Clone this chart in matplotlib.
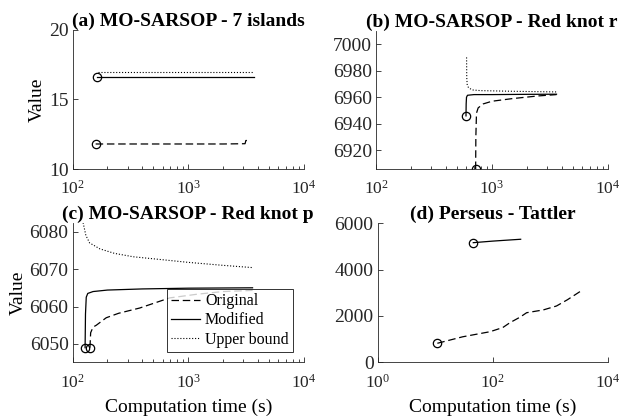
import numpy as np
import matplotlib.pyplot as plt
from matplotlib.ticker import NullLocator

plt.rcParams['font.family'] = ['Liberation Serif', 'DejaVu Serif']
plt.rcParams['mathtext.fontset'] = 'stix'

# (a) MO-SARSOP - 7 islands
a_orig_t = [158, 500, 1000, 2000, 3100, 3150, 3400]
a_orig_v = [11.8, 11.8, 11.8, 11.8, 11.82, 12.05, 12.05]
a_mod_t = [163, 500, 1000, 3700]
a_mod_v = [16.65, 16.65, 16.65, 16.65]
a_ub_t = [165, 500, 1000, 3700]
a_ub_v = [17.0, 17.0, 17.0, 17.0]

# (b) MO-SARSOP - Red knot r
b_orig_t = [723, 726, 735, 760, 840, 1000, 1500, 2500, 3600]
b_orig_v = [6906, 6930, 6948, 6952, 6955, 6957, 6959, 6961, 6962]
b_mod_t = [597, 599, 603, 615, 700, 1000, 2000, 3600]
b_mod_v = [6946, 6955, 6960, 6961.5, 6962, 6962, 6962.2, 6962.3]
b_ub_t = [604, 606, 612, 630, 680, 800, 1500, 3700]
b_ub_v = [6990, 6975, 6969, 6967, 6965.5, 6965, 6964.5, 6964]

# (c) MO-SARSOP - Red knot p
c_orig_t = [141, 143, 150, 160, 195, 250, 380, 690, 1200, 2000, 3600]
c_orig_v = [6049, 6053, 6054.5, 6055, 6057, 6058.2, 6059.6, 6062.3, 6063.3, 6064, 6064.3]
c_mod_t = [128, 129, 131, 135, 150, 200, 400, 1000, 3600]
c_mod_v = [6049, 6058, 6062.5, 6063.5, 6064, 6064.4, 6064.7, 6064.9, 6065]
c_ub_t = [123, 130, 140, 172, 230, 333, 600, 1000, 2000, 3600]
c_ub_v = [6082.4, 6079, 6077, 6075.4, 6074.2, 6073.3, 6072.5, 6071.8, 6071, 6070.4]

# (d) Perseus - Tattler
d_orig_t = [10.9, 30, 90, 150, 200, 300, 390, 760, 1290, 2000, 3300]
d_orig_v = [820, 1100, 1320, 1500, 1710, 1950, 2140, 2260, 2430, 2700, 3050]
d_mod_t = [46, 100, 200, 307]
d_mod_v = [5163, 5230, 5280, 5310]

grey = '#262626'
lw = 0.9


def styl(ax, xlim, ylim, yticks, title, xlabel=False, ylabel=False):
    ax.set_xscale('log')
    ax.set_xlim(xlim)
    ax.set_ylim(ylim)
    ax.set_yticks(yticks)
    for s in ['top', 'right']:
        ax.spines[s].set_visible(False)
    for s in ['left', 'bottom']:
        ax.spines[s].set_color(grey)
        ax.spines[s].set_linewidth(0.6)
    ax.tick_params(which='both', direction='in', colors=grey,
                   labelcolor='#262626', width=0.6, pad=3)
    ax.tick_params(axis='y', labelsize=14)
    ax.tick_params(axis='x', labelsize=12.5, pad=8)
    ax.tick_params(which='major', length=3.5)
    ax.tick_params(which='minor', length=2)
    ax.set_title(title, fontsize=14, fontweight='bold', pad=3)
    if xlabel:
        ax.set_xlabel('Computation time (s)', fontsize=14, labelpad=5)
    if ylabel:
        ax.set_ylabel('Value', fontsize=14, labelpad=2)


def draw(ax, t, v, ls):
    ax.plot(t, v, color='k', linestyle=ls, linewidth=lw)
    ax.plot(t[0], v[0], 'o', mfc='none', mec='k', ms=6, mew=0.9)


fig = plt.figure(figsize=(6.23, 4.2), dpi=100)
dash = (0, (6, 3))

ax = fig.add_axes([0.1167, 0.5976, 0.371, 0.331])
ax.plot(a_ub_t, a_ub_v, color='k', linestyle=':', linewidth=0.8)
draw(ax, a_mod_t, a_mod_v, '-')
draw(ax, a_orig_t, a_orig_v, dash)
styl(ax, (1e2, 1e4), (10, 20), [10, 15, 20], '(a) MO-SARSOP - 7 islands', ylabel=True)

ax = fig.add_axes([0.6035, 0.5976, 0.3724, 0.329])
ax.plot(b_ub_t, b_ub_v, color='k', linestyle=':', linewidth=0.8)
draw(ax, b_mod_t, b_mod_v, '-')
draw(ax, b_orig_t, b_orig_v, dash)
styl(ax, (1e2, 1e4), (6906, 7010), [6920, 6940, 6960, 6980, 7000],
     '(b) MO-SARSOP - Red knot r')

ax = fig.add_axes([0.1167, 0.1374, 0.371, 0.3324])
l1, = ax.plot(c_orig_t, c_orig_v, color='k', linestyle=dash, linewidth=lw)
l2, = ax.plot(c_mod_t, c_mod_v, color='k', linestyle='-', linewidth=lw)
l3, = ax.plot(c_ub_t, c_ub_v, color='k', linestyle=':', linewidth=0.8)
ax.plot(c_orig_t[0], c_orig_v[0], 'o', mfc='none', mec='k', ms=6, mew=0.9)
ax.plot(c_mod_t[0], c_mod_v[0], 'o', mfc='none', mec='k', ms=6, mew=0.9)
styl(ax, (1e2, 1e4), (6045.1, 6082.4), [6050, 6060, 6070, 6080],
     '(c) MO-SARSOP - Red knot p', xlabel=True, ylabel=True)
leg = ax.legend([l1, l2, l3], ['Original', 'Modified', 'Upper bound'],
                loc='lower right', bbox_to_anchor=(0.951, 0.076), fontsize=11.5,
                frameon=True, fancybox=False, edgecolor='k', handlelength=1.8,
                handletextpad=0.3, borderpad=0.25, labelspacing=0.2, borderaxespad=0)
leg.get_frame().set_linewidth(0.7)

ax = fig.add_axes([0.6063, 0.1374, 0.369, 0.331])
draw(ax, d_mod_t, d_mod_v, '-')
draw(ax, d_orig_t, d_orig_v, dash)
styl(ax, (1, 1e4), (0, 6000), [0, 2000, 4000, 6000], '(d) Perseus - Tattler', xlabel=True)
ax.set_xticks([1, 1e2, 1e4])
ax.xaxis.set_minor_locator(NullLocator())

fig.savefig('out.png', dpi=100)
